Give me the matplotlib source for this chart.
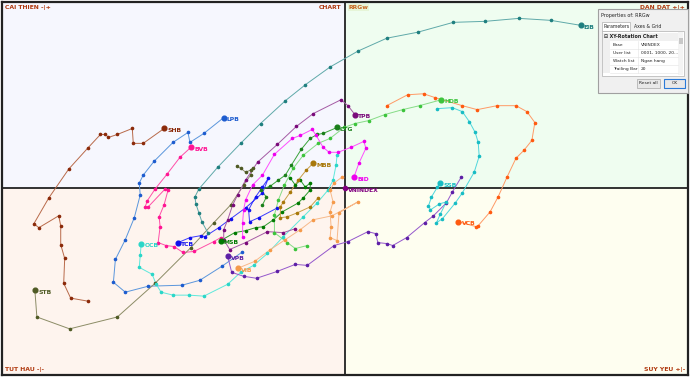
import matplotlib
matplotlib.use("Agg")
import matplotlib.pyplot as plt
from matplotlib.patches import Rectangle

plt.rcParams['font.family'] = ['DejaVu Sans']

# RS-Ratio (x) and RS-Momentum (y), trail ordered oldest -> newest
SHB_x = [74.1, 72.4, 71.7, 71.8, 71.4, 71.4, 71.2, 69.2, 68.7, 70.2, 72.2, 74.1, 75.4, 75.9, 76.2, 77.1, 78.6, 78.7, 79.7, 81.8]
SHB_y = [88.6, 88.9, 90.4, 92.9, 94.3, 96.2, 97.2, 96.0, 96.4, 99.0, 101.9, 104.0, 105.4, 105.4, 105.1, 105.4, 106.0, 104.5, 104.5, 106.0]

LPB_x = [89.6, 87.6, 85.4, 83.6, 80.2, 77.9, 76.7, 76.9, 77.9, 78.8, 79.4, 79.3, 79.7, 80.8, 82.7, 84.2, 84.4, 85.8, 87.8]
LPB_y = [93.5, 92.1, 90.7, 90.2, 90.1, 89.5, 90.5, 92.8, 94.8, 97.0, 99.3, 100.5, 101.3, 102.7, 104.6, 105.6, 104.6, 105.5, 107.1]

BVB_x = [87.5, 86.8, 84.8, 83.7, 82.8, 82.0, 81.2, 81.4, 81.3, 81.8, 82.2, 81.9, 80.2, 79.9, 80.1, 80.9, 82.1, 83.4, 84.5]
BVB_y = [95.0, 94.6, 93.6, 93.5, 94.1, 94.2, 94.5, 96.1, 97.1, 98.3, 99.8, 99.9, 98.1, 98.1, 98.7, 99.9, 101.4, 103.1, 104.1]

BID_x = [89.7, 89.7, 89.8, 90.0, 90.7, 91.7, 92.9, 94.7, 95.5, 96.7, 97.1, 97.8, 98.4, 99.3, 100.6, 101.9, 102.1, 101.4, 100.9]
BID_y = [95.1, 96.5, 97.8, 98.8, 100.3, 101.3, 103.4, 105.0, 105.3, 105.9, 105.3, 104.1, 103.6, 103.6, 104.1, 104.7, 104.0, 102.5, 101.1]

HDB_x = [96.2, 95.0, 94.2, 92.9, 92.9, 93.3, 93.9, 94.8, 95.8, 97.3, 98.5, 99.9, 101.0, 102.4, 104.0, 105.8, 107.5, 109.7]
HDB_y = [94.2, 93.9, 94.5, 95.5, 97.3, 98.8, 100.3, 102.0, 103.3, 104.5, 105.0, 106.1, 106.5, 106.8, 107.4, 107.9, 108.3, 108.9]

VCB_x = [104.2, 106.3, 107.9, 109.1, 111.8, 113.3, 115.3, 117.2, 118.3, 119.1, 118.8, 118.0, 117.2, 116.3, 115.4, 114.6, 113.4, 113.2, 111.4]
VCB_y = [108.3, 109.4, 109.5, 109.1, 108.3, 107.9, 108.3, 108.3, 107.7, 106.6, 104.8, 103.8, 103.0, 101.1, 99.1, 97.6, 96.2, 96.1, 96.6]

SSB_x = [109.3, 110.8, 111.8, 112.5, 113.1, 113.4, 113.5, 113.0, 111.8, 111.1, 109.8, 109.2, 109.6, 110.2, 109.5, 108.6, 108.4, 108.7, 109.3, 109.6]
SSB_y = [108.0, 108.1, 107.7, 106.7, 105.6, 104.6, 103.2, 101.6, 99.5, 98.5, 96.9, 96.5, 97.4, 98.6, 98.4, 97.8, 98.2, 99.1, 100.1, 100.5]

EIB_x = [86.2, 85.6, 85.3, 85.0, 84.9, 85.3, 87.2, 89.5, 91.5, 94.0, 96.0, 98.5, 101.3, 104.2, 107.3, 110.9, 114.1, 117.5, 120.7, 123.7]
EIB_y = [95.5, 96.6, 97.5, 98.4, 99.1, 99.9, 102.1, 104.5, 106.5, 108.8, 110.4, 112.2, 113.8, 115.1, 115.7, 116.7, 116.8, 117.1, 116.9, 116.4]

OCB_x = [99.2, 99.1, 98.8, 98.3, 97.2, 95.8, 93.8, 92.2, 90.8, 89.5, 88.2, 85.8, 84.3, 82.7, 81.5, 81.0, 80.6, 79.3, 79.4, 79.5]
OCB_y = [103.3, 102.3, 100.8, 99.8, 98.5, 97.1, 95.1, 93.4, 92.2, 91.5, 90.3, 89.1, 89.2, 89.2, 89.5, 90.3, 91.3, 92.0, 93.2, 94.4]

TCB_x = [93.2, 91.3, 90.4, 90.3, 91.0, 91.7, 92.3, 91.7, 90.0, 88.5, 87.3, 85.9, 85.5, 84.4, 83.2]
TCB_y = [98.0, 97.0, 96.6, 97.8, 99.1, 100.1, 101.0, 99.5, 98.0, 96.9, 96.0, 95.1, 95.2, 95.0, 94.5]

MSB_x = [94.5, 95.0, 95.5, 96.0, 96.5, 96.5, 95.8, 95.3, 93.7, 92.8, 91.8, 91.0, 90.0, 88.9, 87.5]
MSB_y = [101.0, 100.3, 100.8, 100.1, 100.5, 99.8, 99.0, 98.5, 97.6, 96.8, 96.1, 96.0, 95.7, 95.5, 94.7]

CTG_x = [91.7, 92.1, 91.5, 92.5, 93.3, 94.0, 94.6, 95.6, 96.5, 97.2, 97.8, 99.2]
CTG_y = [98.3, 99.1, 99.8, 100.2, 100.8, 101.3, 102.3, 103.9, 105.0, 105.4, 105.5, 106.1]

VPB_x = [111.7, 110.8, 110.2, 108.9, 108.0, 106.2, 104.8, 104.2, 103.3, 103.1, 102.3, 100.3, 98.9, 96.2, 95.0, 93.2, 91.1, 89.8, 88.6, 88.2]
VPB_y = [101.1, 99.6, 98.5, 97.2, 96.5, 95.0, 94.2, 94.4, 94.5, 95.4, 95.6, 94.6, 94.2, 92.2, 92.3, 91.6, 90.9, 91.1, 91.5, 93.1]

TPB_x = [95.0, 93.8, 92.2, 90.0, 88.4, 87.8, 87.8, 88.2, 88.7, 89.2, 90.0, 91.2, 93.2, 95.1, 96.8, 99.6, 100.3, 101.0]
TPB_y = [95.9, 95.5, 95.6, 94.5, 93.8, 94.8, 95.8, 96.8, 98.3, 99.3, 100.8, 102.6, 104.4, 106.2, 107.5, 108.9, 108.3, 107.4]

MBB_x = [97.3, 96.5, 95.2, 94.2, 93.5, 93.5, 93.8, 94.5, 95.3, 96.1, 96.8]
MBB_y = [99.0, 98.1, 97.5, 97.1, 97.0, 98.1, 98.6, 99.6, 100.8, 101.8, 102.5]

VIB_x = [99.7, 98.9, 98.5, 98.8, 98.5, 98.6, 98.5, 99.2, 99.4, 101.3, 98.7, 96.8, 95.5, 94.0, 92.5, 90.9, 89.2]
VIB_y = [101.1, 100.5, 99.8, 98.6, 97.6, 96.1, 95.0, 94.7, 97.5, 98.6, 97.2, 96.8, 95.8, 94.8, 93.8, 92.6, 91.9]

STB_x = [89.1, 89.5, 90.0, 90.5, 90.7, 90.5, 89.8, 88.5, 86.8, 84.5, 80.9, 77.1, 72.3, 69.0, 68.8]
STB_y = [102.2, 102.0, 101.6, 101.8, 102.0, 101.3, 100.3, 98.3, 96.5, 94.0, 90.4, 87.0, 85.8, 87.0, 89.7]

IDX_x = [100.0]
IDX_y = [100.0]

series = [
    ("SHB", SHB_x, SHB_y, "#b86a4a", "#8b2a0a"),
    ("LPB", LPB_x, LPB_y, "#5a96dc", "#1d5ccf"),
    ("BVB", BVB_x, BVB_y, "#ff4fa8", "#ff1493"),
    ("STB", STB_x, STB_y, "#8c8c66", "#4f5a24"),
    ("EIB", EIB_x, EIB_y, "#5fa9a9", "#1f7f7f"),
    ("OCB", OCB_x, OCB_y, "#5ee8dc", "#2ad6c8"),
    ("TCB", TCB_x, TCB_y, "#3a3aff", "#1010ee"),
    ("MSB", MSB_x, MSB_y, "#2e9a2e", "#007a00"),
    ("CTG", CTG_x, CTG_y, "#3aa33a", "#1a7f1a"),
    ("HDB", HDB_x, HDB_y, "#86dc86", "#3cc43c"),
    ("BID", BID_x, BID_y, "#ff4dff", "#ee00ee"),
    ("TPB", TPB_x, TPB_y, "#a45aa4", "#7a0a7a"),
    ("VPB", VPB_x, VPB_y, "#9457cc", "#5d1fa6"),
    ("MBB", MBB_x, MBB_y, "#c9a04a", "#a8780a"),
    ("VIB", VIB_x, VIB_y, "#f7b98a", "#f59a4a"),
    ("VCB", VCB_x, VCB_y, "#ff9a66", "#ff5a10"),
    ("SSB", SSB_x, SSB_y, "#4fd6dc", "#18bcc4"),
]

XMIN, XMAX = 65.5, 134.5
YMIN, YMAX = 81.1, 118.8

fig = plt.figure(figsize=(6.9, 3.77), dpi=100)
fig.patch.set_facecolor("white")
ax = fig.add_axes([0.003, 0.004, 0.994, 0.992])
ax.set_xlim(XMIN, XMAX)
ax.set_ylim(YMIN, YMAX)

# quadrant backgrounds
ax.add_patch(Rectangle((XMIN, 100), 100 - XMIN, YMAX - 100, color="#f6f7fe", zorder=0, lw=0))
ax.add_patch(Rectangle((100, 100), XMAX - 100, YMAX - 100, color="#effdf0", zorder=0, lw=0))
ax.add_patch(Rectangle((XMIN, YMIN), 100 - XMIN, 100 - YMIN, color="#fef4ee", zorder=0, lw=0))
ax.add_patch(Rectangle((100, YMIN), XMAX - 100, 100 - YMIN, color="#fefef0", zorder=0, lw=0))
ax.axhline(100, color="#222222", lw=1.3, zorder=1)
ax.axvline(100, color="#222222", lw=1.3, zorder=1)

for name, xs, ys, lc, mc in series:
    ax.plot(xs, ys, color=lc, lw=0.7, zorder=3)
    ax.plot(xs[:-1], ys[:-1], "o", ms=1.6, color=mc, mec=mc, zorder=4)
    ax.plot(xs[-1:], ys[-1:], "o", ms=3.4, color=mc, mec=mc, zorder=5)
    ax.annotate(name, (xs[-1], ys[-1]), xytext=(2.3, -1.5), textcoords="offset points",
                fontsize=4.4, fontweight="bold", color=mc, va="center", ha="left", zorder=6)

ax.plot(IDX_x, IDX_y, "o", ms=3.0, color="#800080", zorder=6)
ax.annotate("VNINDEX", (IDX_x[0], IDX_y[0]), xytext=(2.3, -1.5), textcoords="offset points",
            fontsize=4.4, fontweight="bold", color="#800080", va="center", ha="left", zorder=6)

qc = "#b03a10"
ax.text(0.004, 0.99, "CAI THIEN -|+", transform=ax.transAxes, fontsize=4.4, fontweight="bold", color=qc, ha="left", va="top")
ax.text(0.996, 0.99, "DAN DAT +|+", transform=ax.transAxes, fontsize=4.4, fontweight="bold", color=qc, ha="right", va="top")
ax.text(0.004, 0.01, "TUT HAU -|-", transform=ax.transAxes, fontsize=4.4, fontweight="bold", color=qc, ha="left", va="bottom")
ax.text(0.996, 0.01, "SUY YEU +|-", transform=ax.transAxes, fontsize=4.4, fontweight="bold", color=qc, ha="right", va="bottom")
ax.text(99.6, YMAX - 0.35, "CHART", fontsize=4.4, fontweight="bold", color=qc, ha="right", va="top")
ax.text(100.4, YMAX - 0.35, "RRGw", fontsize=4.4, fontweight="bold", color="#c8641e", ha="left", va="top",
        bbox=dict(boxstyle="square,pad=0.1", fc="#e6f5d8", ec="none"))

ax.set_xticks([])
ax.set_yticks([])
for s in ax.spines.values():
    s.set_color("#222222")
    s.set_linewidth(1.6)

# properties dialog overlay (pixel coordinates)
ov = fig.add_axes([0, 0, 1, 1], zorder=20)
ov.set_xlim(0, 690)
ov.set_ylim(377, 0)
ov.axis("off")
ov.add_patch(Rectangle((598, 9), 90, 84, fc="#f0f0f0", ec="#a0a0a0", lw=0.8))
ov.text(601, 15.5, "Properties of: RRGw", fontsize=3.5, va="center", ha="left", color="#222222")
ov.add_patch(Rectangle((602, 22), 28, 9, fc="white", ec="#b0b0b0", lw=0.5))
ov.text(603.5, 26.5, "Parameters", fontsize=3.3, va="center", ha="left", color="#222222")
ov.text(634, 27, "Axes & Grid", fontsize=3.3, va="center", ha="left", color="#222222")
ov.add_patch(Rectangle((602, 31), 82, 45, fc="white", ec="#b0b0b0", lw=0.5))
ov.add_patch(Rectangle((603, 33), 75, 8, fc="#f0f0f0", ec="none"))
ov.text(604.5, 37, "\u229f XY-Rotation Chart", fontsize=3.4, fontweight="bold", va="center", ha="left", color="#222222")
rows = [("Base", "VNINDEX"), ("User list", "0001, 1000, 20..."), ("Watch list", "Ngan hang"), ("Trailing Bar", "20")]
for i, (k, v) in enumerate(rows):
    yy = 45 + i * 8
    ov.add_patch(Rectangle((603, yy - 4), 7, 8, fc="#f0f0f0", ec="none"))
    ov.plot([610, 678], [yy + 4, yy + 4], color="#e4e4e4", lw=0.4)
    ov.plot([638, 638], [yy - 4, yy + 4], color="#e4e4e4", lw=0.4)
    ov.text(613, yy, k, fontsize=3.2, va="center", ha="left", color="#222222")
    ov.text(641, yy, v, fontsize=3.2, va="center", ha="left", color="#222222")
ov.add_patch(Rectangle((678, 32), 5, 43, fc="#f4f4f4", ec="none"))
ov.add_patch(Rectangle((678.5, 38), 4, 6, fc="#c8c8c8", ec="none"))
ov.add_patch(Rectangle((637, 79), 23, 9, fc="#e8e8e8", ec="#a8a8a8", lw=0.5))
ov.text(648.5, 83.5, "Reset all", fontsize=3.2, va="center", ha="center", color="#222222")
ov.add_patch(Rectangle((664, 79), 21, 9, fc="#e8e8e8", ec="#2a7ad8", lw=0.8))
ov.text(674.5, 83.5, "OK", fontsize=3.2, va="center", ha="center", color="#222222")

fig.savefig("out.png", dpi=100)
